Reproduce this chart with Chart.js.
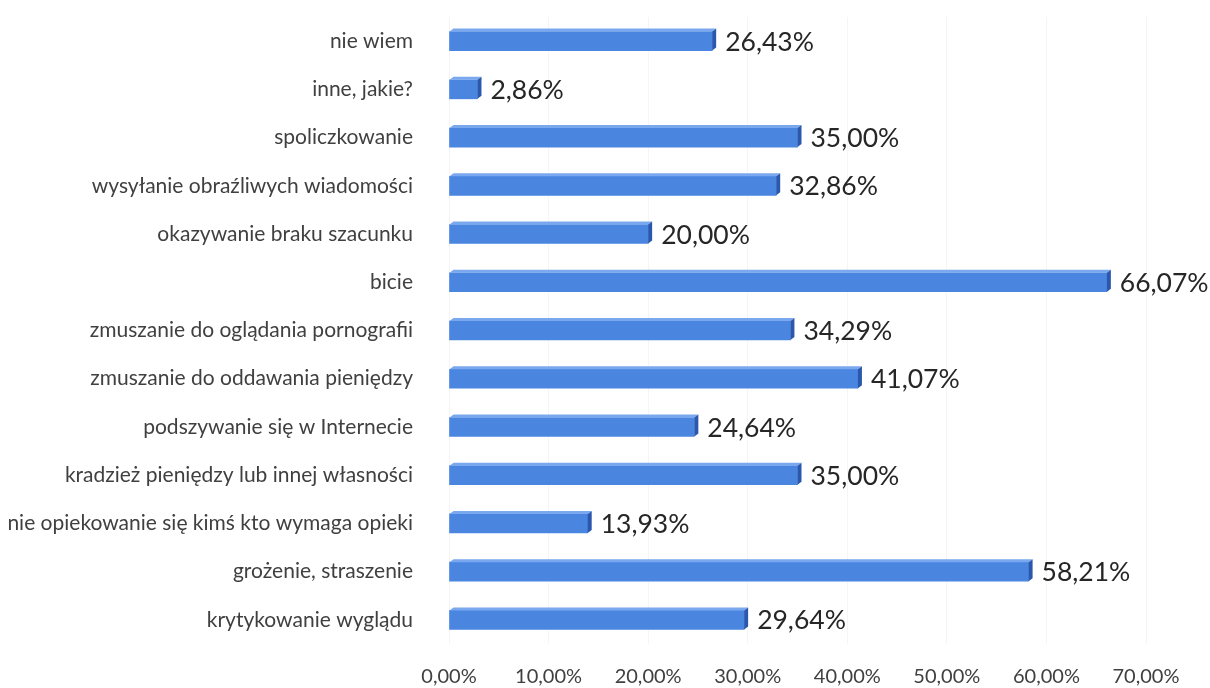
<!DOCTYPE html>
<html>
<head>
  <meta charset="utf-8">
  <title>Formy przemocy</title>
  <script src="https://cdn.jsdelivr.net/npm/chart.js"></script>
  <style>
    html, body { margin: 0; padding: 0; background: #fff; }
    #chart-container { width: 1210px; height: 688px; position: relative; }
  </style>
</head>
<body>
  <div id="chart-container">
    <canvas id="myChart"></canvas>
  </div>
  <script>
    const categories = [
      'nie wiem',
      'inne, jakie?',
      'spoliczkowanie',
      'wysyłanie obraźliwych wiadomości',
      'okazywanie braku szacunku',
      'bicie',
      'zmuszanie do oglądania pornografii',
      'zmuszanie do oddawania pieniędzy',
      'podszywanie się w Internecie',
      'kradzież pieniędzy lub innej własności',
      'nie opiekowanie się kimś kto wymaga opieki',
      'grożenie, straszenie',
      'krytykowanie wyglądu'
    ];
    const percents = [26.43, 2.86, 35.00, 32.86, 20.00, 66.07, 34.29, 41.07, 24.64, 35.00, 13.93, 58.21, 29.64];
    const xTicks = [0, 10, 20, 30, 40, 50, 60, 70];

    const fmt = (v) => v.toFixed(2).replace('.', ',') + '%';
    const FONT = "Lato, 'Open Sans', sans-serif";
    const BAR_H = 19;

    // obrys 3D: górna ścianka i prawy bok słupka, potem etykieta z wartością
    const bars3d = {
      id: 'bars3d',
      afterDatasetsDraw(chart) {
        const ctx = chart.ctx;
        const meta = chart.getDatasetMeta(0);
        const dx = 4, dy = 3;
        ctx.save();
        meta.data.forEach((bar, i) => {
          const top = bar.y - bar.height / 2;
          const bottom = bar.y + bar.height / 2;
          const x0 = bar.base, x1 = bar.x;
          ctx.fillStyle = '#7aa8ee';
          ctx.beginPath();
          ctx.moveTo(x0, top);
          ctx.lineTo(x0 + dx, top - dy);
          ctx.lineTo(x1 + dx, top - dy);
          ctx.lineTo(x1, top);
          ctx.closePath();
          ctx.fill();
          ctx.fillStyle = '#2b58ad';
          ctx.beginPath();
          ctx.moveTo(x1, top);
          ctx.lineTo(x1 + dx, top - dy);
          ctx.lineTo(x1 + dx, bottom - dy);
          ctx.lineTo(x1, bottom);
          ctx.closePath();
          ctx.fill();

          ctx.fillStyle = '#262626';
          ctx.font = '26.5px ' + FONT;
          ctx.textAlign = 'left';
          ctx.textBaseline = 'middle';
          ctx.fillText(fmt(percents[i]), x1 + dx + 9, bar.y + 1);
        });
        ctx.restore();
      }
    };

    const ctx = document.getElementById('myChart').getContext('2d');
    new Chart(ctx, {
      type: 'bar',
      data: {
        labels: categories,
        datasets: [{
          data: percents,
          backgroundColor: (c) => {
            const el = c.element;
            if (!el || !Number.isFinite(el.y)) return '#4a86e0';
            const top = el.y - BAR_H / 2;
            const g = c.chart.ctx.createLinearGradient(0, top, 0, top + BAR_H);
            g.addColorStop(0, '#3f78d6');
            g.addColorStop(0.45, '#4f8ae4');
            g.addColorStop(1, '#3c72cc');
            return g;
          },
          borderWidth: 0,
          barThickness: BAR_H
        }]
      },
      options: {
        indexAxis: 'y',
        responsive: true,
        maintainAspectRatio: false,
        animation: false,
        layout: { padding: { top: 17, right: 64, bottom: 0, left: 0 } },
        plugins: {
          legend: { display: false },
          tooltip: { enabled: false }
        },
        scales: {
          x: {
            min: 0,
            max: 70,
            afterBuildTicks: (s) => { s.ticks = xTicks.map(v => ({ value: v })); },
            afterFit: (s) => { s.height = 44; },
            grid: { color: '#f5f5f5', drawTicks: false },
            border: { display: false },
            ticks: {
              padding: 21,
              color: '#404040',
              font: { family: FONT, size: 20 },
              callback: (v) => fmt(v)
            }
          },
          y: {
            // stała szerokość kolumny etykiet, bez dodatkowego marginesu u góry i dołu
            afterFit: (s) => {
              s.width = 449;
              s.paddingTop = 0;
              s.paddingBottom = 0;
            },
            grid: { display: false },
            border: { display: false },
            ticks: {
              padding: 28,
              color: '#404040',
              font: { family: FONT, size: 21 }
            }
          }
        }
      },
      plugins: [bars3d]
    });
  </script>
</body>
</html>
